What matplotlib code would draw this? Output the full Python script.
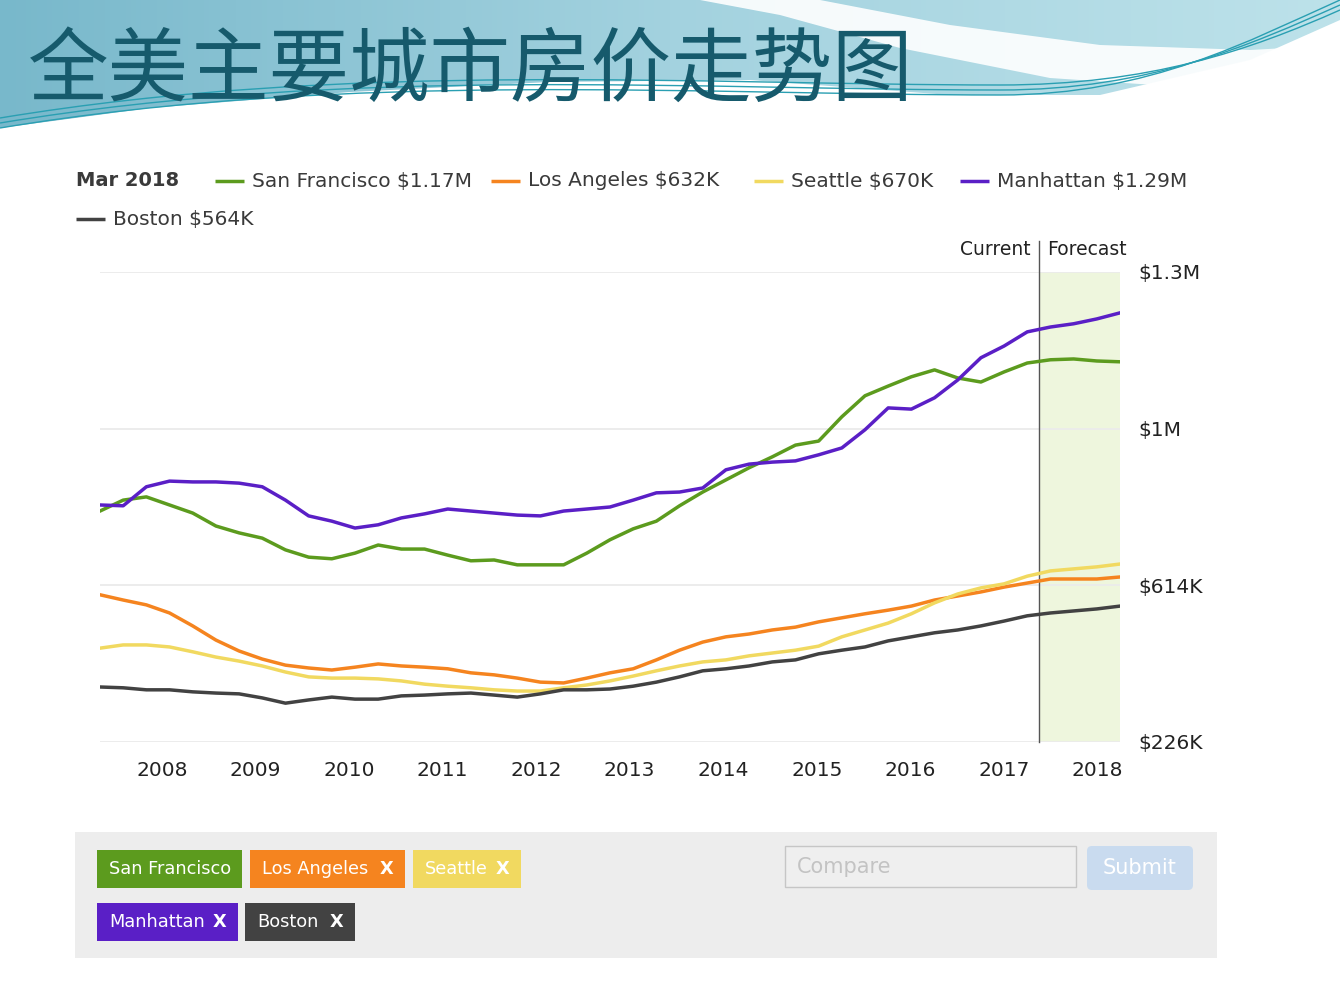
import numpy as np
import matplotlib
matplotlib.use("Agg")
import matplotlib.pyplot as plt
from matplotlib.patches import Rectangle, FancyBboxPatch, Polygon, PathPatch
from matplotlib.path import Path
import matplotlib.transforms as mtransforms

plt.rcParams['font.family'] = ['DejaVu Sans']

# roughly quarterly points, May 2007 -> Mar 2018 (last stretch is the forecast)
dates = np.linspace(2007.34, 2018.24, 45)

# median home value, $K
san_francisco = [797, 824, 832, 812, 792, 760, 743, 730, 701, 683, 679, 693, 713, 703, 703,
                 688, 674, 676, 664, 664, 664, 693, 726, 753, 772, 810, 844, 874, 904, 931,
                 960, 970, 1030, 1082, 1106, 1129, 1146, 1126, 1116, 1141, 1163, 1171, 1173, 1168, 1166]
los_angeles = [590, 577, 565, 545, 513, 478, 451, 431, 416, 409, 404, 411, 419, 414, 411,
               407, 397, 392, 384, 374, 372, 384, 397, 407, 429, 453, 473, 486, 493, 503,
               510, 523, 533, 543, 552, 562, 577, 587, 597, 609, 619, 629, 629, 629, 634]
seattle = [458, 466, 466, 461, 449, 436, 426, 414, 399, 387, 384, 384, 382, 377, 369,
           364, 360, 355, 352, 352, 360, 367, 377, 389, 402, 414, 424, 429, 439, 446,
           453, 463, 486, 503, 520, 543, 570, 592, 607, 617, 636, 649, 654, 659, 666]
manhattan = [812, 810, 857, 871, 869, 869, 866, 857, 824, 785, 772, 755, 763, 780, 790,
             802, 797, 792, 787, 785, 797, 802, 807, 824, 842, 844, 854, 899, 913, 918,
             921, 936, 953, 998, 1052, 1049, 1077, 1121, 1176, 1205, 1240, 1252, 1260, 1272, 1287]
boston = [362, 360, 355, 355, 350, 347, 345, 335, 322, 330, 337, 332, 332, 340, 342,
          345, 347, 342, 337, 345, 355, 355, 357, 364, 374, 387, 402, 407, 414, 424,
          429, 444, 453, 461, 476, 486, 496, 503, 513, 525, 538, 545, 550, 555, 562]

cities = ['San Francisco', 'Los Angeles', 'Seattle', 'Manhattan', 'Boston']
latest = ['$1.17M', '$632K', '$670K', '$1.29M', '$564K']
colors = ['#5c9b1e', '#f5841f', '#f1d960', '#5a1fc6', '#424242']
series = [san_francisco, los_angeles, seattle, manhattan, boston]

years = list(range(2008, 2019))
ytick_vals = [226, 614, 1000, 1388]
ytick_labels = ['$226K', '$614K', '$1M', '$1.3M']
forecast_start = 2017.37

W, H = 1340, 1008
fig = plt.figure(figsize=(W / 100, H / 100), dpi=100)
fig.patch.set_facecolor('white')

# ---- background layer in pixel coords ----
bg = fig.add_axes([0, 0, 1, 1], zorder=0)
bg.set_xlim(0, W)
bg.set_ylim(H, 0)
bg.axis('off')

# blue wave band at the top
band = Polygon([(0, 0), (1340, 0), (1340, 20), (1250, 60), (1100, 95), (950, 95), (750, 80),
                (550, 82), (350, 92), (150, 108), (0, 128)], closed=True, facecolor='none',
               edgecolor='none')
bg.add_patch(band)
grad = np.linspace(0, 1, 256).reshape(1, -1)
cmap = matplotlib.colors.LinearSegmentedColormap.from_list('wave', ['#78b8cb', '#a3d2df', '#bde2ea'])
im = bg.imshow(grad, extent=[0, 1340, 140, 0], cmap=cmap, aspect='auto', zorder=0.5)
im.set_clip_path(band)

# white swoosh
swoosh = Polygon([(700, 0), (820, 0), (950, 25), (1100, 45), (1250, 50), (1340, 45),
                  (1340, 78), (1200, 88), (1050, 78), (900, 48), (780, 15)], closed=True,
                 facecolor='white', edgecolor='none', alpha=0.9, zorder=0.7)
bg.add_patch(swoosh)

# thin teal lines
for off in [0, 5, 10]:
    verts = [(0, 128 - off), (350, 70 - off), (700, 95 - off), (1000, 95 - off),
             (1150, 95 - off), (1250, 40 + off), (1340, 0 + off)]
    codes = [Path.MOVETO, Path.CURVE4, Path.CURVE4, Path.CURVE4, Path.CURVE4, Path.CURVE4, Path.CURVE4]
    bg.add_patch(PathPatch(Path(verts, codes), facecolor='none', edgecolor='#2a9fb2', lw=1.0, zorder=0.8))

bg.text(28, 72, '全美主要城市房价走势图', fontsize=58, color='#165a6c', va='center', ha='left',
        family=['Noto Sans CJK SC', 'DejaVu Sans'], zorder=2)

# legend row
txt_col = '#3a3a3a'
bg.text(76, 181, 'Mar 2018', fontsize=14, fontweight='bold', color=txt_col, va='center')
leg_pos = [(215, 181), (491, 181), (754, 181), (960, 181), (76, 219)]
for (lx, ly), name, val, c in zip(leg_pos, cities, latest, colors):
    bg.plot([lx, lx + 29], [ly, ly], color=c, lw=2.5, solid_capstyle='butt')
    bg.text(lx + 37, ly, f'{name} {val}', fontsize=14.5, color=txt_col, va='center')

# bottom control panel
bg.add_patch(Rectangle((75, 832), 1142, 126, facecolor='#ededed', edgecolor='none'))
buttons = [(97, 850, 145, 'San Francisco', False), (250, 850, 155, 'Los Angeles', True),
           (413, 850, 108, 'Seattle', True), (97, 903, 141, 'Manhattan', True),
           (245, 903, 110, 'Boston', True)]
for (bx, by, bw, label, has_x), c in zip(buttons, colors):
    bg.add_patch(Rectangle((bx, by), bw, 38, facecolor=c, edgecolor='none'))
    bg.text(bx + 12, by + 19, label, fontsize=12.8, color='white', va='center')
    if has_x:
        bg.text(bx + bw - 12, by + 19, 'X', fontsize=12.8, color='white', va='center', ha='right',
                fontweight='bold')
bg.add_patch(Rectangle((785, 846), 291, 41, facecolor='#efefef', edgecolor='#c6c6c6', lw=1))
bg.text(797, 867, 'Compare', fontsize=15, color='#c3c3c3', va='center')
bg.add_patch(FancyBboxPatch((1090, 849), 100, 38, boxstyle='round,pad=3,rounding_size=5',
                            facecolor='#c9dbef', edgecolor='none'))
bg.text(1140, 868, 'Submit', fontsize=15, color='white', va='center', ha='center')

# ---- the chart ----
ax = fig.add_axes([100 / W, 1 - 742 / H, 1020 / W, 470 / H], zorder=1)
ax.patch.set_alpha(0)
ax.set_xlim(dates[0], dates[-1])
ax.set_ylim(ytick_vals[0], ytick_vals[-1])

ax.axvspan(forecast_start, dates[-1], color='#eef6dd', zorder=0, lw=0)
for name, vals, c in zip(cities, series, colors):
    ax.plot(dates, vals, color=c, lw=2.5, label=name, zorder=3)

trans = mtransforms.blended_transform_factory(ax.transData, ax.transAxes)
ax.plot([forecast_start, forecast_start], [0, 1.066], transform=trans, color='#555555', lw=1,
        clip_on=False, zorder=2)
ax.text(forecast_start - 0.08, 1.047, 'Current', transform=trans, ha='right', va='center',
        fontsize=13.5, color='#222222')
ax.text(forecast_start + 0.09, 1.047, 'Forecast', transform=trans, ha='left', va='center',
        fontsize=13.5, color='#222222')

ax.set_xticks(years)
ax.set_xticklabels([str(y) for y in years])
ax.yaxis.tick_right()
ax.set_yticks(ytick_vals)
ax.set_yticklabels(ytick_labels)
ax.tick_params(axis='x', length=0, pad=14, labelsize=14.5, labelcolor='#222222')
ax.tick_params(axis='y', length=0, pad=13, labelsize=14.5, labelcolor='#222222')
ax.grid(axis='y', color='#ebebeb', lw=1.3, zorder=1)
ax.set_axisbelow(True)
for s in ax.spines.values():
    s.set_visible(False)

fig.savefig('out.png', dpi=100, facecolor='white')
